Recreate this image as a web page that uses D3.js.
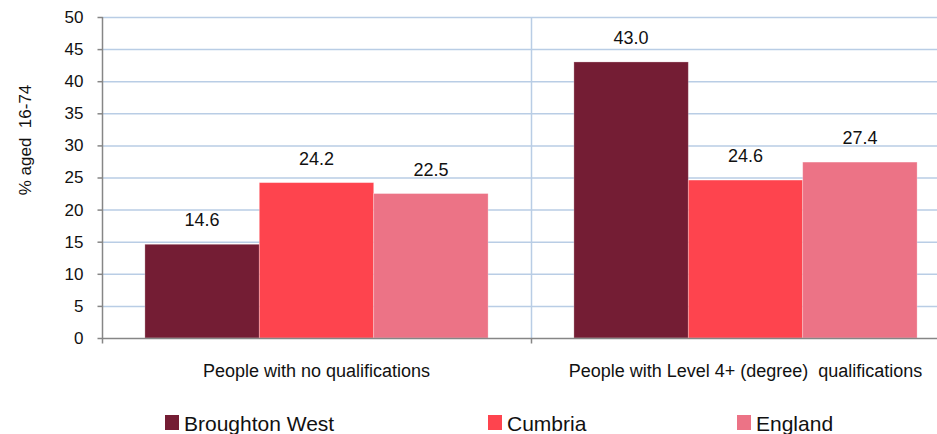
<!DOCTYPE html>
<html>
<head>
<meta charset="utf-8">
<script src="https://cdn.jsdelivr.net/npm/d3@7"></script>
<style>
  body { margin: 0; background: #fff; }
  svg { display: block; font-family: "Liberation Sans", Arial, sans-serif; }
</style>
</head>
<body>
<div id="chart"></div>
<script>
const categories = ["People with no qualifications", "People with Level 4+ (degree)\u00a0 qualifications"];
const seriesNames = ["Broughton West", "Cumbria", "England"];
const broughtonWest = [14.6, 43.0];
const cumbria = [24.2, 24.6];
const england = [22.5, 27.4];
const yTicks = [0, 5, 10, 15, 20, 25, 30, 35, 40, 45, 50];
const colors = ["#741d34", "#fe444e", "#ec7386"];

const width = 937, height = 434;
const plotLeft = 102, plotTop = 17, plotBottom = 338, plotRight = 960;

const seriesValues = [broughtonWest, cumbria, england];
const rows = categories.map((c, i) => ({
  cat: c,
  vals: seriesNames.map((s, j) => ({ name: s, value: seriesValues[j][i], color: colors[j] }))
}));

const svg = d3.select("#chart").append("svg").attr("width", width).attr("height", height);

const y = d3.scaleLinear().domain([0, 50]).range([plotBottom, plotTop]);
const x0 = d3.scaleBand().domain(categories).range([plotLeft, plotRight]).paddingInner(0).paddingOuter(0);
const x1 = d3.scaleBand().domain(seriesNames).range([0, x0.bandwidth()]).paddingInner(0).paddingOuter(0.375);

// gridlines
svg.append("g").selectAll("line").data(yTicks.filter(t => t > 0)).join("line")
  .attr("x1", plotLeft).attr("x2", width).attr("y1", d => y(d) + 0.5).attr("y2", d => y(d) + 0.5)
  .attr("stroke", "#b9cde5").attr("stroke-width", 1.5);

// vertical gridline between categories
svg.append("line")
  .attr("x1", x0(categories[1]) + 0.5).attr("x2", x0(categories[1]) + 0.5)
  .attr("y1", plotTop).attr("y2", plotBottom)
  .attr("stroke", "#b9cde5").attr("stroke-width", 1.5);

// bars
const groups = svg.append("g").selectAll("g").data(rows).join("g")
  .attr("transform", d => `translate(${x0(d.cat)},0)`);

groups.selectAll("rect").data(d => d.vals).join("rect")
  .attr("x", d => x1(d.name))
  .attr("width", x1.bandwidth())
  .attr("y", d => y(d.value))
  .attr("height", d => y(0) - y(d.value))
  .attr("fill", d => d.color)
  .attr("stroke", "rgba(255,255,255,0.35)")
  .attr("stroke-width", 0.8);

groups.selectAll("text").data(d => d.vals).join("text")
  .attr("x", d => x1(d.name) + x1.bandwidth() / 2)
  .attr("y", d => y(d.value) - 18)
  .attr("text-anchor", "middle")
  .style("font-size", "18px").style("fill", "#111")
  .text(d => d.value.toFixed(1));

// y axis
const yAxis = svg.append("g").attr("transform", `translate(${plotLeft + 0.5},0)`)
  .call(d3.axisLeft(y).tickValues(yTicks).tickSize(5).tickPadding(14));
yAxis.select(".domain").attr("stroke", "#868686").attr("stroke-width", 1.5).attr("d", `M0,${plotTop}V${plotBottom}`);
yAxis.selectAll(".tick line").attr("stroke", "#868686").attr("stroke-width", 1.5);
yAxis.selectAll(".tick text").style("font-size", "17px").style("fill", "#111").style("font-family", "Liberation Sans, Arial, sans-serif");

// x axis
const xAxis = svg.append("g").attr("transform", `translate(0,${plotBottom + 0.5})`);
xAxis.append("line").attr("x1", plotLeft).attr("x2", width).attr("stroke", "#868686").attr("stroke-width", 1.5);
xAxis.selectAll("line.tk").data(categories).join("line").attr("class", "tk")
  .attr("x1", d => x0(d) + 0.5).attr("x2", d => x0(d) + 0.5).attr("y1", 0).attr("y2", 5)
  .attr("stroke", "#868686").attr("stroke-width", 1.5);
xAxis.selectAll("text").data(categories).join("text")
  .attr("x", d => x0(d) + x0.bandwidth() / 2)
  .attr("y", 38)
  .attr("text-anchor", "middle")
  .style("font-size", "18px").style("fill", "#111")
  .text(d => d);

// y title
svg.append("text")
  .attr("transform", "translate(31,140) rotate(-90)")
  .attr("text-anchor", "middle")
  .style("font-size", "17px").style("fill", "#111")
  .text("% aged\u00a0 16-74");

// legend
const legendX = [165, 488, 737];
const legend = svg.append("g").selectAll("g").data(seriesNames).join("g")
  .attr("transform", (d, i) => `translate(${legendX[i]},415)`);
legend.append("rect").attr("width", 14).attr("height", 15).attr("fill", (d, i) => colors[i]);
legend.append("text").attr("x", 19).attr("y", 16).style("font-size", "21px").style("fill", "#111").text(d => d);
</script>
</body>
</html>
